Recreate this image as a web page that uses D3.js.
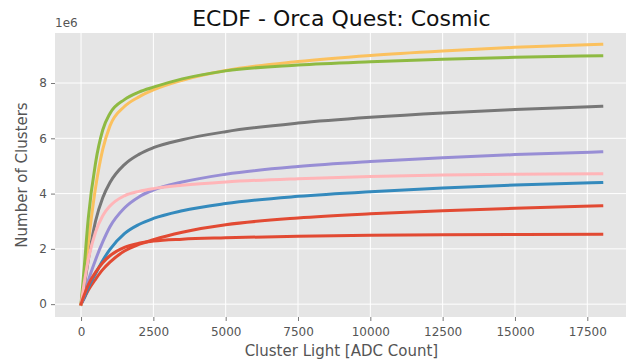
<!DOCTYPE html>
<html>
<head>
<meta charset="utf-8">
<script src="https://cdn.jsdelivr.net/npm/d3@7"></script>
<style>
  html, body { margin: 0; padding: 0; background: #ffffff; }
  svg { display: block; font-family: "DejaVu Sans", sans-serif; }
</style>
</head>
<body>
<svg id="chart" width="626" height="363"></svg>
<script>
// Cluster light sample points (ADC count)
const lightPoints = [0, 100, 250, 500, 750, 1000, 1500, 2000, 2500, 3500, 5000, 7500, 10000, 12500, 15000, 18000];

// Cumulative cluster counts per sample, in units of 1e6
const seriesA = [0, 0.2, 0.5, 0.9, 1.25, 1.52, 1.92, 2.16, 2.33, 2.6, 2.87, 3.12, 3.27, 3.38, 3.47, 3.56];
const seriesB = [0, 0.2, 0.6, 1.1, 1.58, 1.98, 2.55, 2.88, 3.1, 3.38, 3.64, 3.9, 4.07, 4.2, 4.31, 4.40];
const seriesC = [0, 0.3, 0.85, 1.6, 2.25, 2.8, 3.48, 3.88, 4.13, 4.42, 4.7, 4.98, 5.16, 5.3, 5.41, 5.51];
const seriesD = [0, 0.6, 1.6, 3.0, 3.85, 4.4, 5.05, 5.42, 5.66, 5.95, 6.24, 6.55, 6.76, 6.92, 7.04, 7.16];
const seriesE = [0, 0.8, 2.2, 4.2, 5.6, 6.45, 7.15, 7.5, 7.75, 8.1, 8.45, 8.78, 9.0, 9.16, 9.29, 9.40];
const seriesF = [0, 1.2, 3.1, 5.1, 6.3, 6.9, 7.4, 7.67, 7.85, 8.15, 8.44, 8.65, 8.77, 8.86, 8.93, 8.99];
const seriesG = [0, 0.7, 1.6, 2.6, 3.2, 3.55, 3.92, 4.08, 4.18, 4.3, 4.42, 4.54, 4.62, 4.67, 4.70, 4.72];
const seriesH = [0, 0.3, 0.7, 1.15, 1.5, 1.75, 2.05, 2.2, 2.28, 2.35, 2.4, 2.46, 2.49, 2.51, 2.52, 2.53];

const allSeries = [seriesA, seriesB, seriesC, seriesD, seriesE, seriesF, seriesG, seriesH];
const palette = ["#E24A33", "#348ABD", "#988ED5", "#777777", "#FBC15E", "#8EBA42", "#FFB5B8", "#E24A33"];

const xTicks = [0, 2500, 5000, 7500, 10000, 12500, 15000, 17500];
const yTicks = [0, 2, 4, 6, 8];

const svg = d3.select("#chart");
const panel = { left: 55, right: 627.8, top: 33, bottom: 317 };

const x = d3.scaleLinear().domain([-900, 18900]).range([panel.left, panel.right]);
const y = d3.scaleLinear().domain([-0.465, 9.81]).range([panel.bottom, panel.top]);

// panel background
svg.append("rect")
  .attr("x", panel.left).attr("y", panel.top)
  .attr("width", panel.right - panel.left).attr("height", panel.bottom - panel.top)
  .attr("fill", "#E5E5E5");

// grid
const grid = svg.append("g");
grid.selectAll("line.gx").data(xTicks).join("line")
  .attr("x1", d => x(d)).attr("x2", d => x(d))
  .attr("y1", panel.top).attr("y2", panel.bottom)
  .attr("stroke", "#ffffff").attr("stroke-width", 1);
grid.selectAll("line.gy").data(yTicks).join("line")
  .attr("x1", panel.left).attr("x2", panel.right)
  .attr("y1", d => y(d)).attr("y2", d => y(d))
  .attr("stroke", "#ffffff").attr("stroke-width", 1);

// axes
const xAxis = d3.axisBottom(x).tickValues(xTicks).tickSize(4).tickPadding(6).tickFormat(d3.format("d"));
const yAxis = d3.axisLeft(y).tickValues(yTicks).tickSize(4).tickPadding(4).tickFormat(d3.format("d"));

const gx = svg.append("g").attr("transform", `translate(0,${panel.bottom})`).call(xAxis);
const gy = svg.append("g").attr("transform", `translate(${panel.left},0)`).call(yAxis);
[gx, gy].forEach(g => {
  g.select(".domain").remove();
  g.selectAll(".tick line").attr("stroke", "#555555").attr("stroke-width", 0.8);
  g.selectAll(".tick text").attr("fill", "#555555").attr("font-size", "12px")
    .attr("font-family", "DejaVu Sans, sans-serif");
});

// curves
const line = d3.line()
  .x((d, i) => x(lightPoints[i]))
  .y(d => y(d))
  .curve(d3.curveMonotoneX);

svg.append("g").selectAll("path").data(allSeries).join("path")
  .attr("d", d => line(d))
  .attr("fill", "none")
  .attr("stroke", (d, i) => palette[i])
  .attr("stroke-width", 3)
  .attr("stroke-linecap", "square")
  .attr("stroke-linejoin", "round");

// scale exponent label
svg.append("text")
  .attr("x", panel.left).attr("y", 27)
  .attr("font-size", "12px").attr("fill", "#555555")
  .text("1e6");

// title
svg.append("text")
  .attr("x", (panel.left + panel.right) / 2).attr("y", 26)
  .attr("text-anchor", "middle")
  .attr("font-size", "22px").attr("fill", "#111111")
  .text("ECDF - Orca Quest: Cosmic");

// axis labels
svg.append("text")
  .attr("x", (panel.left + panel.right) / 2).attr("y", 356)
  .attr("text-anchor", "middle")
  .attr("font-size", "15px").attr("fill", "#555555")
  .text("Cluster Light [ADC Count]");

svg.append("text")
  .attr("transform", `translate(27,${(panel.top + panel.bottom) / 2}) rotate(-90)`)
  .attr("text-anchor", "middle")
  .attr("font-size", "15px").attr("fill", "#555555")
  .text("Number of Clusters");
</script>
</body>
</html>
